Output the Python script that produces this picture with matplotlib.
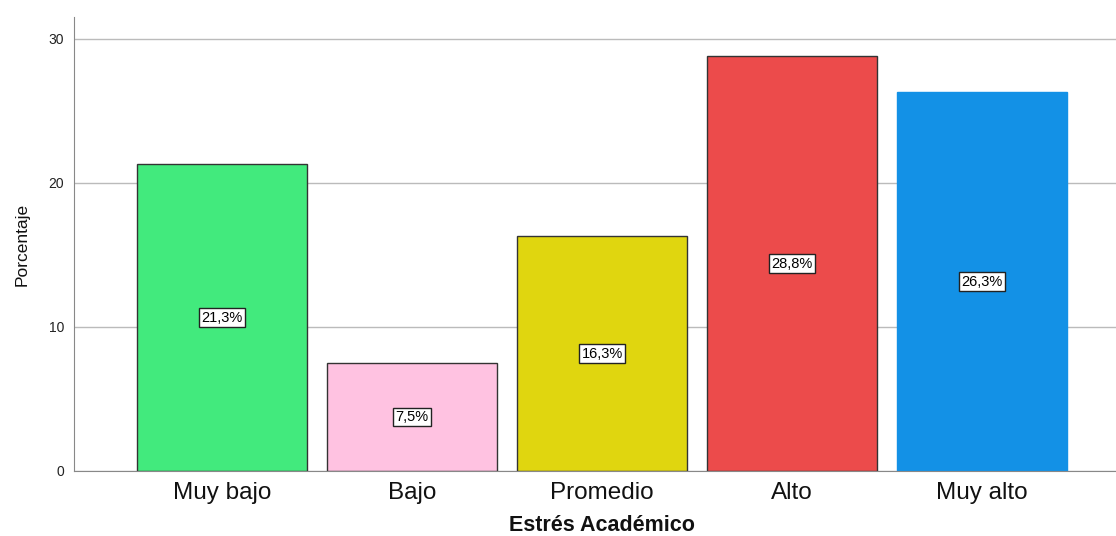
import matplotlib
matplotlib.use("Agg")
import matplotlib.pyplot as plt

categories = ["Muy bajo", "Bajo", "Promedio", "Alto", "Muy alto"]
values = [21.3, 7.5, 16.3, 28.8, 26.3]
labels = ["21,3%", "7,5%", "16,3%", "28,8%", "26,3%"]
colors = ["#42EA7D", "#FFC2E1", "#E0D60F", "#EC4B4B", "#1391E6"]
edges = ["#333333", "#333333", "#333333", "#333333", "#1391E6"]
yticks = [0, 10, 20, 30]

plt.rcParams['font.family'] = ['Liberation Sans', 'DejaVu Sans']

fig = plt.figure(figsize=(11.16, 5.36), dpi=100)
ax = fig.add_axes([0.0663, 0.1213, 0.9337, 0.8467])

x = list(range(len(categories)))
ax.bar(x, values, width=0.895, color=colors, edgecolor=edges, linewidth=1.0, zorder=2)
for xi, v, lab in zip(x, values, labels):
    ax.text(xi, v / 2, lab, ha='center', va='center', fontsize=10.5, zorder=3,
            bbox=dict(boxstyle='square,pad=0.15', facecolor='white', edgecolor='#222222', linewidth=1.0))

ax.set_xlim(-0.78, 4.705)
ax.set_ylim(0, 31.5)
ax.set_yticks(yticks)
ax.set_xticks(x)
ax.set_xticklabels(categories, fontsize=17.5, color='#111111')
ax.tick_params(axis='x', length=0, pad=8)
ax.tick_params(axis='y', labelsize=10, length=0, pad=7, labelcolor='#222222')
ax.yaxis.grid(True, color='#BBBBBB', linewidth=1.0, zorder=0)
ax.set_axisbelow(True)
for s in ['top', 'right']:
    ax.spines[s].set_visible(False)
ax.spines['left'].set_color('#888888')
ax.spines['bottom'].set_color('#888888')
ax.set_ylabel('Porcentaje', fontsize=12.5, labelpad=14, color='#111111')
ax.set_xlabel('Estrés Académico', fontsize=15.5, fontweight='bold', color='#111111')
ax.xaxis.set_label_coords(0.507, -0.098)

fig.savefig('out.png', dpi=100)
